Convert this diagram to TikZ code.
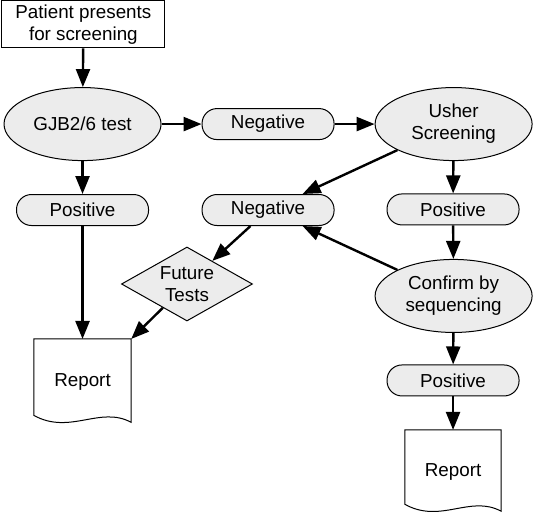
\documentclass[tikz,border=0pt]{standalone}
\usepackage{fontspec}
\setmainfont{Liberation Sans}
\usetikzlibrary{shapes.geometric,arrows.meta}

\tikzset{
  box/.style={draw,line width=1pt,minimum width=163pt,minimum height=47pt,align=center},
  oval/.style={draw,ellipse,fill=gray!15,line width=1pt,minimum width=157pt,minimum height=73pt,inner sep=0pt,align=center},
  pill/.style={draw,rectangle,rounded corners=15pt,fill=gray!15,line width=1pt,minimum width=132pt,minimum height=31pt},
  choice/.style={draw,diamond,aspect=1.77,fill=gray!15,line width=1pt,minimum width=131pt,minimum height=74pt,inner sep=0pt,align=center},
  doc/.style={minimum width=97pt,minimum height=86pt},
  flow/.style={line width=2.4pt,-{Triangle[length=18pt,width=14pt]}}
}

\begin{document}
\begin{tikzpicture}[font=\fontsize{18.8}{22}\selectfont]
\useasboundingbox (0,0) rectangle (18.73,-18.17);
\path
    (2.93,-0.86) node [box] (patient) {Patient presents\\for screening}
    (2.90,-4.36) node [oval] (gjb) {GJB2/6 test}
    (9.42,-4.36) node [pill] (neg1) {Negative}
    (15.94,-4.36) node [oval] (usher) {Usher\\Screening}
    (2.90,-7.38) node [pill] (posL) {Positive}
    (9.42,-7.38) node [pill] (neg2) {Negative}
    (15.92,-7.36) node [pill] (posR) {Positive}
    (6.57,-9.98) node [choice] (future) {Future\\Tests}
    (15.94,-10.40) node [oval] (confirm) {Confirm by\\sequencing}
    (2.90,-13.43) node [doc] (repL) {Report}
    (15.92,-13.37) node [pill] (posB) {Positive}
    (15.92,-16.59) node [doc,minimum width=96pt,minimum height=84pt] (repR) {Report};
% report sheets with wavy bottom
\foreach \r in {repL,repR}
  \draw [line width=1pt] (\r.north west) -- (\r.north east) -- ([yshift=3pt]\r.south east)
    .. controls +(-31pt,17pt) and +(36pt,-20pt) .. ([yshift=10pt]\r.south west) -- cycle;
\draw (patient) [flow] -- (gjb);
\draw (gjb) [flow] -- (neg1);
\draw (neg1) [flow] -- (usher);
\draw (gjb) [flow] -- (posL);
\draw (posL) [flow] -- (repL);
\draw (usher) [flow] -- (neg2);
\draw (usher) [flow] -- (posR);
\draw (posR) [flow] -- (confirm);
\draw (confirm) [flow] -- (neg2);
\draw (neg2) [flow] -- (future);
\draw (future) [flow] -- (repL.north east);
\draw (confirm) [flow] -- (posB);
\draw (posB) [flow] -- (repR);
\end{tikzpicture}
\end{document}
